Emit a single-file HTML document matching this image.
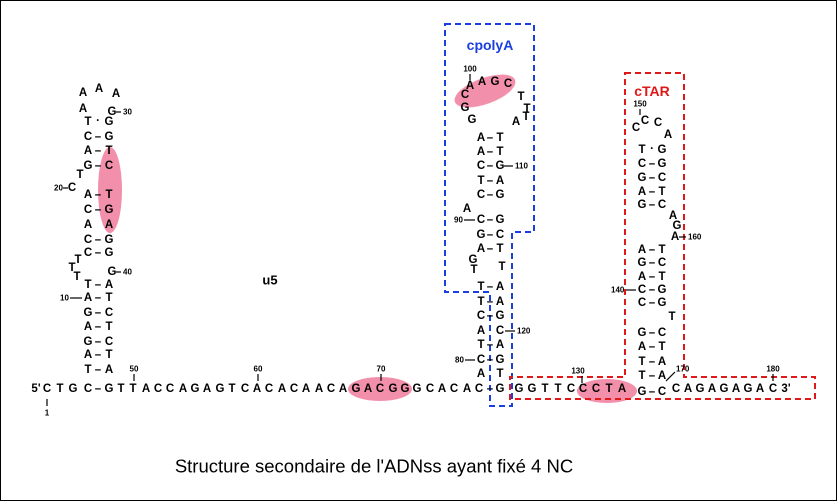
<!DOCTYPE html>
<html><head><meta charset="utf-8"><style>
html,body{margin:0;padding:0;background:#fff}
svg{display:block}
text{font-family:"Liberation Sans",sans-serif}
.n{font-size:11.5px;font-weight:bold;text-anchor:middle;dominant-baseline:central}
.s{font-size:8px;font-weight:bold;dominant-baseline:central}
</style></head><body>
<svg width="837" height="501" viewBox="0 0 837 501" xmlns="http://www.w3.org/2000/svg">
<rect x="0.5" y="0.5" width="836" height="500" fill="#fff" stroke="#000" stroke-width="1"/>
<g fill="#f07c9c" opacity="0.85">
<ellipse cx="110" cy="190" rx="12" ry="43"/>
<ellipse cx="380" cy="389" rx="32" ry="12"/>
<ellipse cx="485" cy="91" rx="32" ry="13" transform="rotate(-20 485 91)"/>
<ellipse cx="607" cy="391" rx="30" ry="12"/>
</g>
<path d="M445,24 H534 V232 H512 V406 H490 V292 H445 Z" fill="none" stroke="#1a3ee0" stroke-width="2" stroke-dasharray="6,4"/>
<path d="M625,73 H684 V377 H815 V399 H510 V377 H625 Z" fill="none" stroke="#e01818" stroke-width="2" stroke-dasharray="6,4"/>
<text x="490" y="45" font-size="14" font-weight="bold" fill="#1a3ee0" text-anchor="middle" dominant-baseline="central">cpolyA</text>
<text x="652" y="91" font-size="14" font-weight="bold" fill="#e01818" text-anchor="middle" dominant-baseline="central">cTAR</text>
<text x="270" y="280" font-size="13" font-weight="bold" text-anchor="middle" dominant-baseline="central">u5</text>
<text x="374" y="466" font-size="18.5" text-anchor="middle" dominant-baseline="central">Structure secondaire de l'ADNss ayant fixé 4 NC</text>

<g class="n">
<text x="47" y="389">C</text>
<text x="36" y="389">5'</text>
<text x="60" y="389">T</text><text x="73" y="389">G</text><text x="88" y="389">C</text><text x="98" y="389">–</text><text x="109" y="389">G</text>
<text x="121" y="389">T</text><text x="133" y="389">T</text><text x="146" y="389">A</text><text x="158" y="389">C</text><text x="170" y="389">C</text><text x="183" y="389">A</text><text x="195" y="389">G</text><text x="207" y="389">A</text><text x="220" y="389">G</text><text x="232" y="389">T</text><text x="245" y="389">C</text><text x="257" y="389">A</text><text x="269" y="389">C</text><text x="282" y="389">A</text><text x="294" y="389">C</text><text x="306" y="389">A</text><text x="319" y="389">A</text><text x="331" y="389">C</text><text x="343" y="389">A</text><text x="356" y="389">G</text><text x="368" y="389">A</text><text x="380" y="389">C</text><text x="393" y="389">G</text><text x="405" y="389">G</text><text x="417" y="389">G</text><text x="430" y="389">C</text><text x="442" y="389">A</text><text x="454" y="389">C</text><text x="467" y="389">A</text><text x="479" y="389">C</text><text x="490" y="389">–</text><text x="500" y="389">G</text>
<text x="519" y="389">G</text><text x="532" y="389">G</text><text x="545" y="389">T</text><text x="558" y="389">T</text><text x="571" y="389">C</text><text x="583" y="389">C</text><text x="596" y="389">C</text><text x="609" y="389">T</text><text x="622" y="389">A</text>
<text x="642" y="392">G</text><text x="652" y="392">–</text><text x="662" y="392">C</text>
<text x="676" y="389">C</text><text x="688" y="389">A</text><text x="700" y="389">G</text><text x="712" y="389">A</text><text x="724" y="389">G</text><text x="736" y="389">A</text><text x="748" y="389">G</text><text x="760" y="389">A</text><text x="773" y="389">C</text><text x="786" y="389">3'</text>

<text x="88" y="370">T</text><text x="98" y="370">–</text><text x="109" y="370">A</text>
<text x="88" y="355">A</text><text x="98" y="355">–</text><text x="109" y="355">T</text>
<text x="88" y="342">G</text><text x="98" y="342">–</text><text x="109" y="342">C</text>
<text x="88" y="327">A</text><text x="98" y="327">–</text><text x="109" y="327">T</text>
<text x="88" y="313">G</text><text x="98" y="313">–</text><text x="109" y="313">C</text>
<text x="88" y="298">A</text><text x="98" y="298">–</text><text x="109" y="298">T</text>
<text x="88" y="285">T</text><text x="98" y="285">–</text><text x="109" y="285">A</text>
<text x="77" y="277">T</text><text x="72" y="268">T</text><text x="78" y="260">T</text><text x="112" y="272">G</text>
<text x="88" y="253">C</text><text x="98" y="253">–</text><text x="109" y="253">G</text>
<text x="88" y="240">C</text><text x="98" y="240">–</text><text x="109" y="240">G</text>
<text x="88" y="225">A</text><text x="109" y="225">A</text>
<text x="88" y="210">C</text><text x="98" y="210">–</text><text x="109" y="210">G</text>
<text x="88" y="195">A</text><text x="98" y="195">–</text><text x="109" y="195">T</text>
<text x="72" y="188">C</text><text x="80" y="175">T</text>
<text x="88" y="166">G</text><text x="98" y="166">–</text><text x="109" y="166">C</text>
<text x="88" y="151">A</text><text x="98" y="151">–</text><text x="109" y="151">T</text>
<text x="88" y="137">C</text><text x="98" y="137">–</text><text x="109" y="137">G</text>
<text x="88" y="122">T</text><text x="98" y="121">·</text><text x="109" y="122">G</text>
<text x="83" y="109">A</text><text x="112" y="112">G</text>
<text x="83" y="93">A</text><text x="99" y="89">A</text><text x="116" y="94">A</text>

<text x="481" y="374">A</text><text x="500" y="374">T</text>
<text x="481" y="360">C</text><text x="490" y="360">–</text><text x="500" y="360">G</text>
<text x="481" y="345">T</text><text x="490" y="345">–</text><text x="500" y="345">A</text>
<text x="481" y="331">A</text><text x="500" y="331">C</text>
<text x="481" y="316">C</text><text x="490" y="316">–</text><text x="500" y="316">G</text>
<text x="481" y="302">T</text><text x="490" y="302">–</text><text x="500" y="302">A</text>
<text x="481" y="287">T</text><text x="490" y="287">–</text><text x="500" y="287">A</text>
<text x="473" y="260">G</text><text x="474" y="270">T</text><text x="502" y="267">T</text>
<text x="481" y="249">A</text><text x="490" y="249">–</text><text x="500" y="249">T</text>
<text x="481" y="235">G</text><text x="490" y="235">–</text><text x="500" y="235">C</text>
<text x="481" y="220">C</text><text x="490" y="220">–</text><text x="500" y="220">G</text>
<text x="467" y="209">A</text>
<text x="481" y="195">C</text><text x="490" y="195">–</text><text x="500" y="195">G</text>
<text x="481" y="181">T</text><text x="490" y="181">–</text><text x="500" y="181">A</text>
<text x="481" y="166">C</text><text x="490" y="166">–</text><text x="500" y="166">G</text>
<text x="481" y="152">A</text><text x="490" y="152">–</text><text x="500" y="152">T</text>
<text x="481" y="138">A</text><text x="490" y="138">–</text><text x="500" y="138">T</text>
<text x="472" y="120">G</text><text x="465" y="108">G</text><text x="465" y="95">C</text>
<text x="470" y="86">A</text><text x="482" y="82">A</text><text x="495" y="82">G</text><text x="508" y="84">C</text>
<text x="521" y="97">T</text><text x="527" y="109">T</text><text x="516" y="122">A</text><text x="526" y="117">T</text>

<text x="642" y="376">T</text><text x="652" y="376">–</text><text x="662" y="376">A</text>
<text x="642" y="362">T</text><text x="652" y="362">–</text><text x="662" y="362">A</text>
<text x="642" y="347">A</text><text x="652" y="347">–</text><text x="662" y="347">T</text>
<text x="642" y="333">G</text><text x="652" y="333">–</text><text x="662" y="333">C</text>
<text x="672" y="317">T</text>
<text x="642" y="303">C</text><text x="652" y="303">–</text><text x="662" y="303">G</text>
<text x="642" y="290">C</text><text x="652" y="290">–</text><text x="662" y="290">G</text>
<text x="642" y="277">A</text><text x="652" y="277">–</text><text x="662" y="277">T</text>
<text x="642" y="263">G</text><text x="652" y="263">–</text><text x="662" y="263">C</text>
<text x="642" y="250">A</text><text x="652" y="250">–</text><text x="662" y="250">T</text>
<text x="675" y="237">A</text><text x="677" y="226">G</text><text x="673" y="216">A</text>
<text x="642" y="205">G</text><text x="652" y="205">–</text><text x="662" y="205">C</text>
<text x="642" y="192">A</text><text x="652" y="192">–</text><text x="662" y="192">T</text>
<text x="642" y="178">G</text><text x="652" y="178">–</text><text x="662" y="178">C</text>
<text x="642" y="164">C</text><text x="652" y="164">–</text><text x="662" y="164">G</text>
<text x="642" y="150">T</text><text x="652" y="149">·</text><text x="662" y="150">G</text>
<text x="636" y="128">C</text><text x="645" y="121">C</text><text x="658" y="123">C</text><text x="668" y="135">A</text>
</g>

<g class="s">
<text x="47" y="413" text-anchor="middle">1</text>
<text x="134" y="369" text-anchor="middle">50</text>
<text x="258" y="369" text-anchor="middle">60</text>
<text x="381" y="369" text-anchor="middle">70</text>
<text x="578" y="371" text-anchor="middle">130</text>
<text x="773" y="369" text-anchor="middle">180</text>
<text x="123" y="112">30</text>
<text x="123" y="272">40</text>
<text x="54" y="188">20</text>
<text x="60" y="298">10</text>
<text x="470" y="69" text-anchor="middle">100</text>
<text x="515" y="166">110</text>
<text x="517" y="331">120</text>
<text x="454" y="220">90</text>
<text x="455" y="360">80</text>
<text x="640" y="104" text-anchor="middle">150</text>
<text x="688" y="237">160</text>
<text x="611" y="290">140</text>
<text x="676" y="369">170</text>
</g>
<g stroke="#000" stroke-width="1.2">
<line x1="47" y1="399" x2="47" y2="406"/>
<line x1="134" y1="374" x2="134" y2="381"/>
<line x1="258" y1="374" x2="258" y2="381"/>
<line x1="381" y1="374" x2="381" y2="381"/>
<line x1="582" y1="376" x2="582" y2="383"/>
<line x1="773" y1="374" x2="773" y2="381"/>
<line x1="640" y1="109" x2="640" y2="115"/>
<line x1="470" y1="74" x2="470" y2="80"/>
<line x1="116" y1="112" x2="121" y2="112"/>
<line x1="116" y1="272" x2="121" y2="272"/>
<line x1="63" y1="188" x2="68" y2="188"/>
<line x1="70" y1="298" x2="82" y2="298"/>
<line x1="504" y1="166" x2="513" y2="166"/>
<line x1="505" y1="331" x2="515" y2="331"/>
<line x1="464" y1="220" x2="475" y2="220"/>
<line x1="465" y1="360" x2="475" y2="360"/>
<line x1="679" y1="237" x2="686" y2="237"/>
<line x1="626" y1="290" x2="636" y2="290"/>
<line x1="666" y1="381" x2="675" y2="372"/>
</g>
</svg>
</body></html>
